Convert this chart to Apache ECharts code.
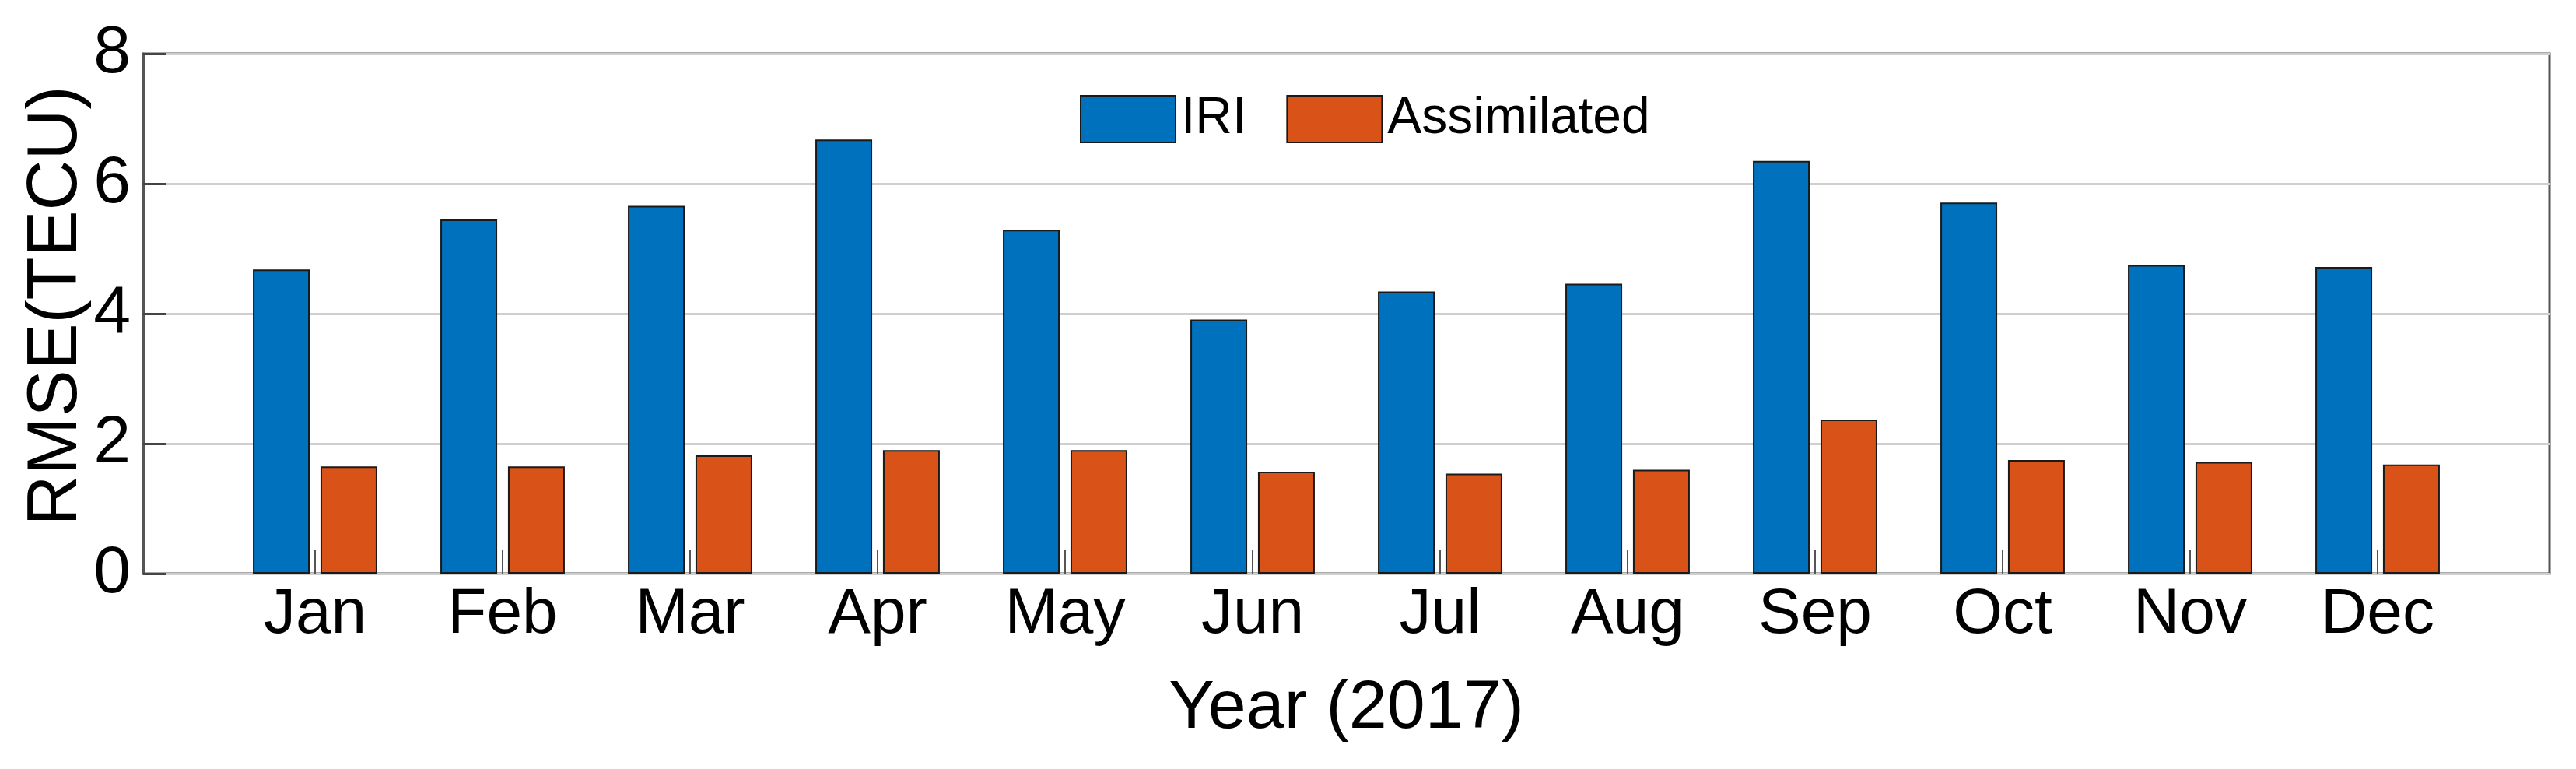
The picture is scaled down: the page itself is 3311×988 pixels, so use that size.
<!DOCTYPE html>
<html>
<head>
<meta charset="utf-8">
<script src="https://cdn.jsdelivr.net/npm/echarts@6/dist/echarts.min.js"></script>
<style>
html,body{margin:0;padding:0;background:#fff;}
#chart{width:3311px;height:988px;}
</style>
</head>
<body>
<div id="chart"></div>
<script>
const months = ['Jan','Feb','Mar','Apr','May','Jun','Jul','Aug','Sep','Oct','Nov','Dec'];
const iriValues = [4.68, 5.45, 5.66, 6.68, 5.29, 3.91, 4.34, 4.46, 6.35, 5.71, 4.75, 4.72];
const assimilatedValues = [1.65, 1.65, 1.82, 1.90, 1.90, 1.57, 1.54, 1.60, 2.37, 1.75, 1.72, 1.68];
const yTicks = [0, 2, 4, 6, 8];

const FONT = "'Liberation Sans', Arial, sans-serif";
const chart = echarts.init(document.getElementById('chart'), null, {renderer: 'canvas'});

chart.setOption({
  backgroundColor: '#ffffff',
  animation: false,
  textStyle: {fontFamily: FONT},
  legend: {
    left: 1383,
    top: 115,
    itemWidth: 122,
    itemHeight: 60,
    itemGap: 51,
    icon: 'rect',
    textStyle: {fontFamily: FONT, fontSize: 66, color: '#000', padding: [0, 0, 0, 2]},
    data: ['IRI', 'Assimilated']
  },
  grid: [
    {left: 184, right: 34, top: 69, bottom: 251, show: true, borderColor: '#555555', borderWidth: 3, backgroundColor: '#ffffff'},
    {left: 284.5, right: 134.5, top: 69, bottom: 251}
  ],
  xAxis: [
    {
      gridIndex: 0, type: 'value', min: 0, max: 1,
      axisLine: {show: false}, axisTick: {show: false}, axisLabel: {show: false}, splitLine: {show: false},
      name: 'Year (2017)', nameLocation: 'middle', nameGap: 130,
      nameTextStyle: {fontFamily: FONT, fontSize: 88, color: '#000'}
    },
    {
      gridIndex: 1, type: 'category', data: months, boundaryGap: true,
      axisLine: {show: false},
      axisTick: {show: true, inside: true, alignWithLabel: true, length: 30, lineStyle: {color: '#555555', width: 2}},
      axisLabel: {fontFamily: FONT, fontSize: 82, color: '#000', margin: 12},
      splitLine: {show: false}
    }
  ],
  yAxis: [
    {
      gridIndex: 0, type: 'value', min: 0, max: 8, interval: 2,
      axisLine: {show: true, lineStyle: {color: '#555555', width: 3}},
      axisTick: {show: true, inside: true, length: 29, lineStyle: {color: '#444444', width: 3}},
      axisLabel: {fontFamily: FONT, fontSize: 86, color: '#000', margin: 16,
        formatter: v => (yTicks.indexOf(v) >= 0 ? String(v) : '')},
      splitLine: {show: true, lineStyle: {color: '#cfcfcf', width: 3}},
      name: 'RMSE(TECU)', nameLocation: 'middle', nameGap: 66, nameRotate: 90,
      nameMoveOverlap: false,
      nameTextStyle: {fontFamily: FONT, fontSize: 90, color: '#000', padding: [0, 0, 0, 20]}
    },
    {
      gridIndex: 1, type: 'value', min: 0, max: 8, interval: 2, show: false
    }
  ],
  series: [
    {
      name: 'IRI', type: 'bar', xAxisIndex: 1, yAxisIndex: 1,
      data: iriValues, barWidth: 73, barGap: '19%',
      itemStyle: {color: '#0072BD', borderColor: '#1a1a1a', borderWidth: 2}
    },
    {
      name: 'Assimilated', type: 'bar', xAxisIndex: 1, yAxisIndex: 1,
      data: assimilatedValues, barWidth: 73, barGap: '19%',
      itemStyle: {color: '#D95319', borderColor: '#1a1a1a', borderWidth: 2}
    }
  ]
});
</script>
</body>
</html>
